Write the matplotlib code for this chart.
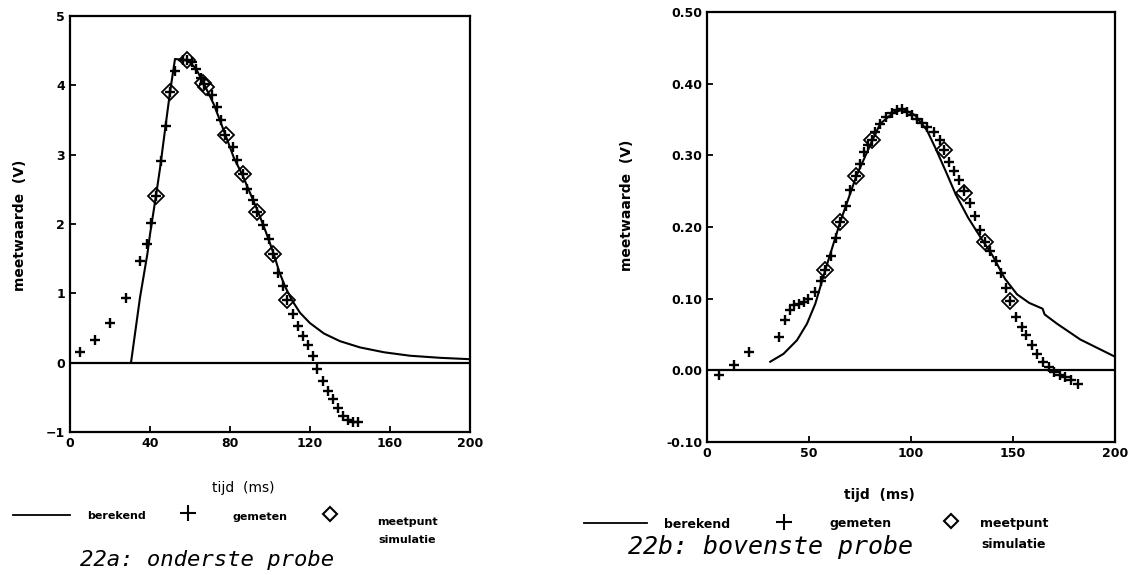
import matplotlib
matplotlib.use('Agg')
import matplotlib.pyplot as plt
from matplotlib.lines import Line2D

plt.rcParams.update({
    'font.family': 'DejaVu Sans',
    'font.size': 9,
    'font.weight': 'bold',
})

# ── Data 22a: onderste probe ──────────────────────────────────────────────
a_ber_t = [30.5, 35, 38.7, 40, 43, 45, 47.8, 50, 52.5, 59, 63, 67, 72, 77.5,
           82, 86, 90, 94, 98, 102, 104.5, 107.5, 111, 115, 120, 127, 135,
           145, 157, 170, 185, 200]
a_ber_v = [0.0, 0.94, 1.57, 1.85, 2.41, 2.8, 3.42, 3.9, 4.38, 4.36, 4.24,
           4.02, 3.72, 3.3, 2.95, 2.72, 2.45, 2.18, 1.88, 1.56, 1.32, 1.1,
           0.9, 0.72, 0.57, 0.42, 0.31, 0.22, 0.15, 0.1, 0.07, 0.05]

a_gem_t = [5, 12.5, 20, 28, 35, 38.7, 40.5, 43, 45.5, 47.8, 50, 52.3, 56.7,
           58.7, 60.8, 63, 65.5, 67.2, 70.8, 73.3, 75.5, 77.5, 81.7, 83.7,
           86.3, 88.3, 91.5, 93.7, 96.5, 99.5, 101.5, 104.2, 106.7, 108.6,
           111.3, 113.8, 116.7, 118.8, 121.7, 123.7, 126.3, 128.8, 131.7,
           134.2, 136.7, 139.2, 141.7, 144.2]
a_gem_v = [0.16, 0.33, 0.57, 0.93, 1.46, 1.71, 2.01, 2.41, 2.91, 3.42, 3.9,
           4.2, 4.36, 4.36, 4.34, 4.23, 4.1, 4.02, 3.86, 3.69, 3.5, 3.28,
           3.11, 2.93, 2.72, 2.51, 2.35, 2.18, 1.98, 1.79, 1.57, 1.3, 1.1,
           0.91, 0.7, 0.53, 0.39, 0.26, 0.1, -0.09, -0.26, -0.41, -0.52,
           -0.65, -0.77, -0.83, -0.86, -0.86]

a_sim_t = [43, 50, 58.7, 66.5, 68, 78, 86.3, 93.7, 101.5, 108.6]
a_sim_v = [2.41, 3.9, 4.36, 4.04, 3.98, 3.28, 2.72, 2.18, 1.57, 0.91]

# ── Data 22b: bovenste probe ──────────────────────────────────────────────
b_ber_t = [31, 37.5, 44.1, 49, 53.1, 58, 65.3, 73.2, 80.9, 84.9, 91.5, 96.5,
           102, 107.8, 112, 117, 122, 128, 134, 140, 146, 152, 158, 164.5,
           165.5, 171.6, 183, 199.3]
b_ber_v = [0.012, 0.023, 0.042, 0.065, 0.093, 0.14, 0.207, 0.271, 0.32,
           0.344, 0.36, 0.364, 0.356, 0.335, 0.31, 0.278, 0.245, 0.213,
           0.186, 0.16, 0.128, 0.106, 0.094, 0.086, 0.078, 0.065, 0.043,
           0.02]

b_gem_t = [5.7, 13, 20.4, 35.1, 38, 40.5, 42.5, 44.9, 47.4, 49.3, 52.7, 55.9,
           58, 60.8, 63.4, 65.3, 68.3, 70.2, 73.2, 75.1, 77, 79, 80.9, 82.5,
           84.9, 87.9, 90.7, 93.1, 95.6, 98, 100.5, 102.9, 105.4, 107.8,
           111.1, 114, 116, 118.4, 121, 123.5, 126, 128.7, 131.5, 133.6,
           136.4, 138.9, 141.8, 144.1, 146.6, 148.7, 151.6, 154.4, 156.5,
           159.3, 161.8, 164.7, 167.5, 169.9, 172.8, 175.6, 178.4, 181.7]
b_gem_v = [-0.007, 0.008, 0.026, 0.046, 0.07, 0.084, 0.091, 0.093, 0.096,
           0.099, 0.109, 0.125, 0.14, 0.16, 0.184, 0.207, 0.229, 0.251, 0.271,
           0.288, 0.304, 0.314, 0.321, 0.332, 0.344, 0.353, 0.359, 0.363,
           0.364, 0.36, 0.356, 0.351, 0.345, 0.339, 0.332, 0.321, 0.307,
           0.291, 0.278, 0.265, 0.25, 0.233, 0.215, 0.196, 0.179, 0.167,
           0.153, 0.136, 0.115, 0.097, 0.075, 0.06, 0.049, 0.036, 0.023,
           0.012, 0.005, -0.002, -0.007, -0.009, -0.014, -0.019]

b_sim_t = [58, 65.3, 73.2, 80.9, 116, 125.8, 136.4, 148.7]
b_sim_v = [0.14, 0.207, 0.271, 0.321, 0.307, 0.248, 0.179, 0.097]

W, H = 1148, 575
fig = plt.figure(figsize=(W / 100, H / 100), dpi=100)


def fx(px):
    return px / W


def fy(py):
    return 1 - py / H


def draw(ax, bt, bv, gt, gv, st, sv):
    ax.plot(bt, bv, color='black', lw=1.5)
    ax.plot(gt, gv, ls='none', marker='+', ms=7, mew=1.7, color='black')
    ax.plot(st, sv, ls='none', marker='D', ms=8, mfc='none', mew=1.3,
            color='black')
    ax.axhline(0, color='black', lw=1.6)
    for s in ax.spines.values():
        s.set_linewidth(1.6)
    ax.tick_params(direction='in', length=4, width=1.3, labelsize=9)


# ── 22a ──
ax1 = fig.add_axes([fx(70), fy(432), 400 / W, 416 / H])
draw(ax1, a_ber_t, a_ber_v, a_gem_t, a_gem_v, a_sim_t, a_sim_v)
ax1.set_xlim(0, 200)
ax1.set_ylim(-1, 5)
ax1.set_xticks([0, 40, 80, 120, 160, 200])
ax1.set_yticks([-1, 0, 1, 2, 3, 4, 5])

# ── 22b ──
ax2 = fig.add_axes([fx(707), fy(442), 408 / W, 430 / H])
draw(ax2, b_ber_t, b_ber_v, b_gem_t, b_gem_v, b_sim_t, b_sim_v)
ax2.set_xlim(0, 200)
ax2.set_ylim(-0.1, 0.5)
ax2.set_xticks([0, 50, 100, 150, 200])
ax2.set_yticks([-0.1, 0, 0.1, 0.2, 0.3, 0.4, 0.5])
ax2.set_yticklabels([f'{v:.2f}' for v in ax2.get_yticks()])

# ── labels and legends in figure coords ──
fig.text(fx(20), fy(225), 'meetwaarde  (V)', rotation=90, ha='center',
         va='center', fontsize=10)
fig.text(fx(627), fy(205), 'meetwaarde  (V)', rotation=90, ha='center',
         va='center', fontsize=10)
fig.text(fx(243), fy(488), 'tijd  (ms)', ha='center', va='center',
         fontsize=10, fontweight='normal')
fig.text(fx(879), fy(495), 'tijd  (ms)', ha='center', va='center',
         fontsize=10)


def legend(xl0, xl1, yl, xb, yb, xp, yp, xg, yg, xd, yd, xm, ym, ys, fs):
    fig.add_artist(Line2D([fx(xl0), fx(xl1)], [fy(yl), fy(yl)],
                          transform=fig.transFigure, color='black', lw=1.3))
    fig.text(fx(xb), fy(yb), 'berekend', ha='center', va='center', fontsize=fs)
    fig.add_artist(Line2D([fx(xp)], [fy(yp)], transform=fig.transFigure,
                          marker='+', ms=11, mew=1.5, color='black'))
    fig.text(fx(xg), fy(yg), 'gemeten', ha='center', va='center', fontsize=fs)
    fig.add_artist(Line2D([fx(xd)], [fy(yd)], transform=fig.transFigure,
                          marker='D', ms=7, mew=1.5, mfc='none',
                          color='black'))
    fig.text(fx(xm), fy(ym), 'meetpunt', ha='center', va='center', fontsize=fs)
    fig.text(fx(xm), fy(ys), 'simulatie', ha='center', va='center', fontsize=fs)


legend(13, 70, 515, 117, 516, 188, 513, 260, 517, 330, 514, 407, 522, 540, 8)
legend(584, 647, 523, 697, 524, 784, 522, 861, 524, 951, 521, 1014, 524, 545, 9)

fig.text(fx(207), fy(560), '22a: onderste probe', ha='center', va='center',
         fontsize=16, family='DejaVu Sans Mono', style='italic',
         fontweight='normal')
fig.text(fx(770), fy(547), '22b: bovenste probe', ha='center', va='center',
         fontsize=18, family='DejaVu Sans Mono', style='italic',
         fontweight='normal')

fig.savefig('out.png', dpi=100)
